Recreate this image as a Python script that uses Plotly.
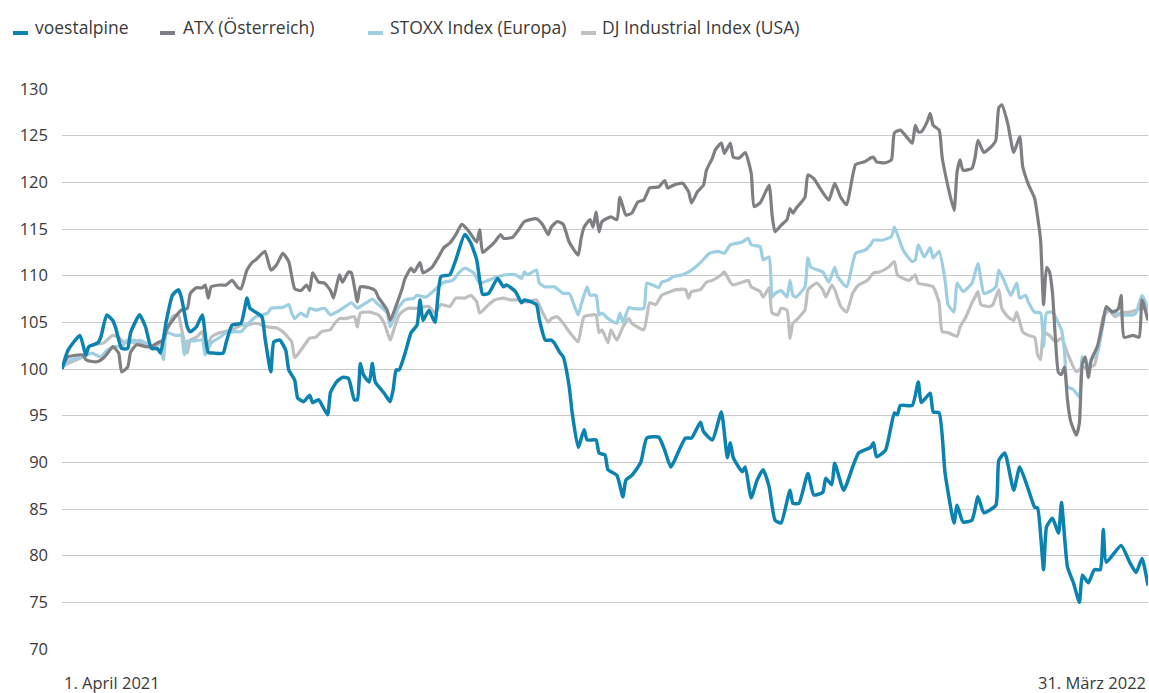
import pandas as pd
import plotly.graph_objects as go

START = "2021-04-01"
END = "2022-03-31"

# day offsets from 1 April 2021 and index values (100 = 1 April 2021)
voest_day = [0, 2, 6, 8, 9, 12, 13, 15, 17, 18, 20, 22, 23, 26, 28, 30, 32, 33, 35, 37, 39, 40, 42, 43, 45, 47, 49, 51, 54, 55, 57, 60, 62, 63, 67, 68, 70, 71, 73, 75, 76, 78, 79, 81, 83, 84, 86, 89, 90, 92, 94, 96, 98, 99, 100, 101, 103, 104, 105, 108, 110, 111, 112, 113, 115, 117, 119, 120, 121, 123, 125, 127, 130, 132, 135, 137, 139, 140, 141, 143, 146, 148, 149, 152, 154, 155, 159, 160, 162, 164, 165, 167, 168, 170, 171, 173, 175, 176, 179, 180, 182, 183, 186, 188, 189, 191, 194, 196, 200, 202, 204, 205, 209, 211, 214, 215, 218, 221, 223, 224, 225, 228, 229, 231, 233, 235, 237, 239, 241, 244, 245, 247, 250, 252, 255, 256, 258, 259, 262, 265, 267, 271, 272, 273, 276, 279, 280, 281, 285, 287, 288, 291, 292, 294, 296, 299, 300, 302, 305, 307, 309, 313, 314, 316, 319, 321, 324, 326, 327, 329, 330, 332, 334, 335, 337, 339, 341, 342, 344, 346, 348, 349, 350, 355, 358, 360, 362, 364]
voest_val = [100.0, 102.0, 103.6, 101.5, 102.4, 102.8, 103.4, 105.8, 105.2, 104.4, 102.2, 102.2, 103.9, 105.8, 104.5, 102.2, 102.2, 101.7, 105.2, 107.9, 108.5, 107.7, 104.5, 104.0, 104.5, 105.8, 101.8, 101.7, 101.7, 102.8, 104.7, 104.9, 107.6, 106.5, 105.6, 103.4, 99.7, 102.9, 103.1, 102.0, 99.9, 98.8, 96.9, 96.5, 97.2, 96.4, 96.7, 95.1, 97.5, 98.6, 99.1, 99.0, 96.7, 96.7, 100.6, 99.4, 98.6, 100.6, 98.6, 97.4, 96.5, 97.8, 99.9, 99.9, 101.7, 103.9, 104.7, 107.4, 105.2, 106.3, 105.0, 109.9, 110.1, 111.7, 114.4, 113.5, 111.7, 109.5, 108.0, 108.1, 109.7, 108.8, 109.0, 108.3, 107.1, 107.4, 106.9, 105.3, 103.1, 103.1, 102.8, 101.7, 101.3, 98.1, 95.3, 91.6, 93.5, 92.4, 92.4, 91.0, 90.8, 89.2, 88.6, 86.3, 88.1, 88.6, 90.0, 92.6, 92.7, 91.3, 89.5, 90.0, 92.6, 92.6, 94.3, 93.3, 92.4, 95.4, 90.5, 92.1, 90.5, 89.0, 89.5, 86.2, 88.1, 89.2, 87.4, 83.8, 83.5, 87.0, 85.6, 85.6, 88.8, 86.5, 86.8, 88.3, 87.6, 89.9, 87.0, 89.5, 91.0, 91.6, 92.1, 90.6, 91.3, 95.3, 95.1, 96.1, 96.1, 98.6, 96.4, 97.4, 95.4, 95.3, 88.8, 83.5, 85.4, 83.6, 83.8, 86.3, 84.6, 85.4, 90.2, 91.0, 87.0, 89.5, 87.0, 85.2, 85.1, 78.5, 83.1, 84.0, 82.4, 85.7, 78.8, 77.1, 75.0, 77.9, 77.1, 78.5, 78.5, 82.8, 79.3, 81.1, 79.2, 78.2, 79.7, 76.8]

atx_day = [0, 2, 7, 8, 10, 12, 14, 16, 17, 19, 20, 22, 23, 25, 28, 30, 32, 34, 35, 38, 40, 42, 43, 45, 47, 48, 49, 50, 53, 55, 57, 59, 60, 62, 64, 65, 68, 70, 72, 74, 76, 78, 80, 82, 83, 84, 86, 88, 90, 91, 93, 94, 96, 97, 99, 100, 103, 105, 106, 109, 110, 112, 114, 115, 117, 118, 120, 121, 124, 126, 128, 130, 132, 134, 136, 139, 140, 141, 143, 145, 147, 148, 151, 153, 155, 159, 161, 163, 164, 166, 168, 170, 173, 174, 175, 177, 178, 179, 180, 181, 184, 186, 187, 189, 191, 193, 195, 197, 200, 202, 203, 205, 208, 210, 211, 213, 215, 216, 218, 219, 221, 222, 224, 225, 227, 229, 231, 232, 234, 235, 237, 238, 239, 241, 243, 244, 245, 246, 249, 250, 252, 254, 257, 259, 261, 263, 266, 269, 271, 272, 273, 276, 278, 279, 281, 283, 285, 286, 287, 288, 290, 291, 292, 294, 295, 297, 299, 300, 301, 302, 305, 306, 307, 309, 312, 313, 314, 315, 317, 319, 321, 322, 324, 326, 327, 328, 329, 330, 331, 332, 333, 334, 335, 336, 337, 338, 340, 341, 342, 343, 344, 345, 347, 349, 350, 352, 354, 355, 356, 359, 361, 362, 364]
atx_val = [100.2, 101.3, 101.5, 101.0, 100.8, 100.8, 101.2, 102.0, 102.4, 101.7, 99.7, 100.2, 101.8, 102.6, 102.4, 102.4, 102.8, 103.1, 104.2, 105.6, 106.3, 106.5, 108.1, 108.7, 108.7, 109.0, 107.6, 108.8, 109.0, 109.0, 109.5, 108.7, 108.6, 110.6, 111.5, 111.7, 112.6, 110.6, 111.2, 112.4, 111.5, 108.6, 108.4, 109.0, 108.4, 110.3, 109.3, 109.2, 108.4, 107.6, 110.1, 109.3, 110.4, 110.3, 107.2, 108.8, 108.7, 108.4, 107.7, 106.3, 105.2, 106.8, 108.6, 109.7, 110.8, 110.4, 111.4, 110.3, 110.9, 111.9, 113.0, 113.5, 114.4, 115.5, 114.9, 113.6, 114.9, 112.5, 113.0, 113.6, 114.4, 114.0, 114.1, 114.9, 115.8, 116.1, 115.5, 114.4, 115.2, 115.8, 115.5, 113.6, 112.2, 114.0, 115.2, 116.0, 115.2, 116.8, 114.7, 115.8, 116.3, 116.0, 118.4, 116.5, 116.7, 117.9, 118.1, 119.4, 119.5, 120.2, 119.4, 119.7, 119.9, 119.0, 117.8, 119.0, 119.7, 121.3, 122.6, 123.5, 124.2, 123.1, 124.2, 122.7, 122.6, 123.2, 121.0, 117.4, 117.8, 118.4, 119.7, 116.5, 114.7, 115.4, 116.0, 117.2, 116.7, 117.2, 118.4, 120.8, 120.4, 119.4, 118.1, 119.9, 118.4, 117.6, 121.9, 122.2, 122.6, 122.7, 122.2, 122.1, 122.4, 125.3, 125.6, 124.9, 124.2, 126.1, 125.4, 125.4, 126.5, 127.4, 126.1, 125.6, 122.7, 119.5, 117.0, 121.1, 122.4, 121.3, 121.5, 122.6, 124.5, 123.2, 124.0, 124.5, 128.0, 128.3, 126.3, 123.2, 124.9, 121.7, 119.7, 118.3, 116.3, 113.8, 106.9, 110.9, 110.4, 108.1, 103.1, 99.6, 99.4, 100.2, 96.7, 94.5, 92.9, 94.2, 100.6, 101.3, 99.1, 101.0, 102.4, 105.2, 106.7, 106.1, 106.4, 107.9, 103.4, 103.6, 103.4, 107.4, 105.2]

stoxx_day = [0, 3, 7, 10, 13, 15, 18, 20, 22, 24, 26, 28, 31, 33, 34, 35, 38, 40, 41, 42, 44, 47, 48, 50, 53, 55, 58, 60, 62, 65, 69, 70, 74, 76, 77, 78, 80, 82, 83, 85, 88, 90, 92, 95, 97, 99, 100, 103, 104, 106, 109, 110, 111, 113, 115, 118, 119, 122, 125, 128, 131, 133, 135, 138, 140, 143, 146, 149, 152, 154, 155, 156, 159, 160, 162, 165, 168, 170, 173, 174, 176, 177, 179, 180, 181, 183, 185, 186, 187, 188, 190, 191, 195, 196, 198, 200, 201, 203, 205, 208, 211, 214, 217, 220, 222, 224, 228, 230, 231, 234, 235, 237, 238, 239, 241, 243, 244, 245, 246, 249, 250, 251, 255, 257, 259, 260, 263, 266, 269, 271, 272, 275, 278, 279, 281, 282, 285, 286, 287, 289, 291, 292, 294, 296, 297, 299, 300, 302, 305, 307, 309, 311, 313, 314, 316, 318, 320, 321, 323, 324, 326, 328, 329, 330, 332, 334, 335, 336, 337, 339, 341, 342, 344, 345, 347, 349, 350, 353, 355, 359, 360, 362, 364]
stoxx_val = [100.2, 101.0, 101.3, 101.7, 101.3, 102.0, 102.4, 102.4, 103.1, 102.8, 103.1, 102.8, 102.2, 102.0, 101.0, 103.9, 103.6, 103.6, 101.5, 103.0, 103.0, 103.1, 101.5, 102.8, 103.4, 103.9, 104.0, 104.0, 104.7, 105.6, 106.0, 106.5, 106.6, 106.9, 106.0, 105.4, 106.0, 105.6, 106.5, 106.3, 106.5, 105.8, 106.1, 106.7, 107.1, 106.5, 106.7, 107.3, 107.5, 106.9, 106.0, 104.5, 105.2, 106.7, 107.4, 107.6, 107.9, 107.7, 108.5, 109.3, 109.5, 110.3, 110.8, 110.3, 109.2, 109.5, 109.9, 110.1, 110.1, 109.7, 110.4, 110.1, 110.6, 109.2, 108.8, 108.8, 108.1, 108.1, 105.8, 106.9, 108.8, 107.9, 107.9, 105.8, 106.0, 105.4, 105.0, 104.9, 106.0, 105.0, 106.6, 106.5, 106.5, 109.2, 109.0, 108.7, 109.3, 109.5, 109.9, 110.1, 110.6, 111.4, 112.4, 112.6, 112.4, 113.3, 113.6, 114.0, 113.3, 113.1, 111.7, 112.0, 107.7, 108.1, 108.4, 107.7, 109.5, 107.9, 107.7, 108.8, 111.9, 110.9, 110.4, 109.3, 110.9, 109.9, 108.8, 112.4, 112.7, 113.3, 113.8, 113.8, 114.2, 115.2, 113.5, 112.7, 111.5, 111.7, 113.3, 112.0, 113.0, 111.9, 112.6, 109.5, 106.9, 106.1, 109.2, 108.3, 109.2, 111.3, 108.1, 108.3, 108.8, 110.6, 109.3, 107.9, 109.2, 107.6, 107.9, 107.1, 106.1, 106.0, 102.4, 106.0, 106.1, 104.9, 104.2, 102.0, 98.1, 97.8, 97.0, 101.3, 100.2, 101.0, 101.7, 104.9, 106.5, 106.0, 105.8, 105.8, 106.0, 107.9, 106.5]

dj_day = [0, 2, 7, 9, 11, 14, 17, 19, 21, 24, 27, 30, 32, 34, 37, 39, 40, 42, 43, 45, 47, 48, 50, 53, 57, 60, 62, 65, 69, 72, 74, 77, 78, 80, 82, 83, 85, 87, 90, 91, 93, 95, 98, 99, 100, 103, 106, 108, 110, 111, 113, 114, 116, 119, 123, 125, 127, 130, 132, 135, 137, 139, 140, 143, 145, 148, 150, 153, 154, 156, 159, 161, 163, 164, 166, 168, 170, 173, 174, 175, 178, 179, 180, 181, 183, 184, 185, 186, 188, 190, 191, 195, 197, 199, 201, 204, 206, 209, 210, 211, 214, 216, 218, 221, 222, 224, 225, 228, 230, 231, 234, 235, 237, 238, 240, 241, 243, 244, 245, 246, 249, 250, 251, 253, 255, 256, 258, 259, 261, 263, 265, 267, 270, 272, 274, 277, 279, 280, 282, 284, 286, 287, 290, 292, 294, 295, 297, 300, 301, 303, 305, 306, 307, 308, 311, 312, 314, 315, 317, 319, 320, 322, 324, 326, 327, 328, 329, 331, 333, 335, 337, 340, 342, 344, 346, 347, 349, 351, 353, 355, 358, 360, 362, 364]
dj_val = [100.2, 100.6, 101.3, 102.4, 102.6, 102.8, 103.6, 103.4, 102.8, 103.1, 102.8, 102.4, 102.6, 103.1, 105.6, 105.8, 104.4, 101.7, 103.1, 103.4, 104.0, 101.8, 103.4, 103.9, 104.2, 104.7, 104.7, 104.9, 104.5, 104.4, 104.0, 102.9, 101.2, 102.0, 102.9, 103.3, 103.4, 104.0, 104.2, 104.7, 105.4, 105.4, 105.6, 104.5, 106.0, 106.1, 105.8, 104.9, 103.1, 104.0, 105.8, 106.1, 106.5, 106.5, 106.7, 106.0, 106.9, 106.7, 107.6, 107.6, 107.9, 107.2, 106.0, 106.9, 107.4, 107.6, 107.4, 107.4, 107.2, 107.2, 107.4, 106.1, 105.0, 105.4, 105.6, 104.9, 104.0, 102.9, 104.4, 105.6, 105.8, 105.8, 103.9, 104.2, 102.8, 104.2, 103.6, 103.1, 104.5, 105.4, 104.9, 104.2, 107.1, 106.9, 107.9, 108.3, 108.5, 108.5, 107.6, 108.3, 108.5, 109.3, 109.5, 110.1, 110.4, 109.3, 109.0, 109.3, 109.5, 108.8, 108.3, 107.7, 108.7, 106.0, 105.8, 106.5, 106.3, 103.3, 104.9, 105.2, 106.3, 108.5, 108.8, 109.2, 108.5, 107.7, 109.0, 108.5, 106.7, 106.1, 108.1, 109.0, 109.5, 110.3, 110.4, 110.9, 111.5, 110.1, 109.7, 109.5, 110.1, 109.2, 109.0, 108.8, 107.1, 104.0, 103.9, 103.5, 104.5, 105.6, 107.1, 107.7, 108.3, 106.9, 106.7, 106.9, 108.5, 106.5, 105.6, 105.2, 106.1, 104.0, 103.6, 103.4, 101.5, 101.0, 103.9, 103.6, 102.9, 103.3, 101.7, 99.7, 100.2, 100.2, 100.4, 101.7, 105.6, 106.3, 105.6, 106.0, 106.1, 106.3, 106.5, 106.3]

series_names = ["voestalpine", "ATX (Österreich)", "STOXX Index (Europa)", "DJ Industrial Index (USA)"]
series_colors = ["#0b82b0", "#7f7f83", "#9dcee1", "#bfbfbf"]
series_days = [voest_day, atx_day, stoxx_day, dj_day]
series_vals = [voest_val, atx_val, stoxx_val, dj_val]
y_ticks = [70, 75, 80, 85, 90, 95, 100, 105, 110, 115, 120, 125, 130]
x_labels = ["1. April 2021", "31. März 2022"]

FONT = "Open Sans"
FSIZE = 16.5
LEG_SIZE = 17.5
TXT = "#3a3a3a"

W, H = 1149, 693
ML, MR, MT, MB = 62, 1, 89, 44
PW = W - ML - MR
PH = H - MT - MB


def px_x(px):
    return (px - ML) / PW


def px_y(py):
    return (H - MB - py) / PH


fig = go.Figure()
base = pd.Timestamp(START)
widths = [3.5, 3.2, 3.2, 3.2]
# draw back to front so that voestalpine is on top
for i in [3, 2, 1, 0]:
    dates = base + pd.to_timedelta(series_days[i], unit="D")
    fig.add_trace(go.Scatter(
        x=dates, y=series_vals[i], mode="lines", name=series_names[i],
        line=dict(color=series_colors[i], width=widths[i], shape="spline", smoothing=0.5),
        showlegend=False, hoverinfo="skip"))

fig.update_layout(
    width=W, height=H,
    margin=dict(l=ML, r=MR, t=MT, b=MB),
    paper_bgcolor="white", plot_bgcolor="white",
    font=dict(family=FONT, size=FSIZE, color=TXT),
    xaxis=dict(type="date", range=[START, END], showgrid=False, showticklabels=False,
               zeroline=False, showline=False, ticks=""),
    yaxis=dict(range=[70, 130], tickvals=y_ticks, showgrid=True, gridcolor="#c9c9c9",
               gridwidth=1.3, zeroline=False, showline=False, ticks="",
               ticklabelstandoff=13, tickfont=dict(family=FONT, size=FSIZE, color=TXT)),
)

# custom legend (short thick bars on the baseline, like the reference)
legend_marker_px = [(13, 28), (160, 175), (368, 383), (581, 596)]
legend_text_px = [33, 181, 388, 600]
shapes = []
annotations = []
for i in range(4):
    x0, x1 = legend_marker_px[i]
    shapes.append(dict(type="line", xref="paper", yref="paper", x0=px_x(x0), x1=px_x(x1),
                       y0=px_y(33), y1=px_y(33), line=dict(color=series_colors[i], width=4)))
    annotations.append(dict(xref="paper", yref="paper", x=px_x(legend_text_px[i]), y=px_y(27),
                            xanchor="left", yanchor="middle", showarrow=False,
                            text=series_names[i], font=dict(family=FONT, size=LEG_SIZE, color=TXT)))

annotations.append(dict(xref="paper", yref="paper", x=0, y=px_y(682), xanchor="left",
                        yanchor="middle", showarrow=False, text=x_labels[0],
                        font=dict(family=FONT, size=FSIZE, color=TXT)))
annotations.append(dict(xref="paper", yref="paper", x=1, y=px_y(682), xanchor="right",
                        yanchor="middle", showarrow=False, text=x_labels[1],
                        font=dict(family=FONT, size=FSIZE, color=TXT)))
fig.update_layout(shapes=shapes, annotations=annotations)

# remove the default 8 px page margin so the figure fills the window exactly
fig.write_html("out.html", config={"displayModeBar": False},
               post_script="document.body.style.margin='0';document.body.style.overflow='hidden';")
